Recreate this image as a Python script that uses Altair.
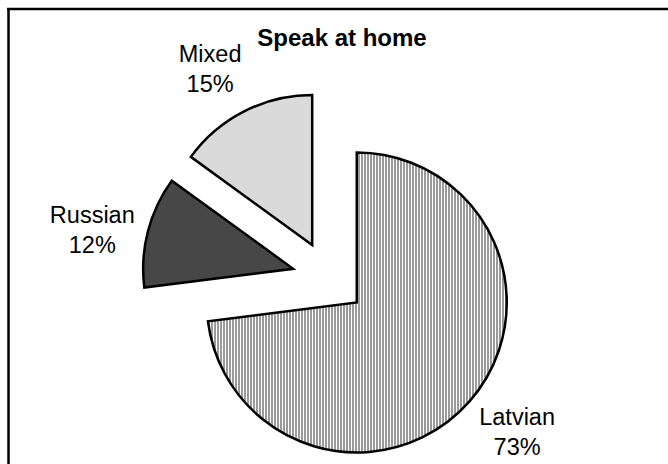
import math
import altair as alt
import pandas as pd

# ---- data -------------------------------------------------------------
categories = ["Latvian", "Russian", "Mixed"]
shares = [73, 12, 15]
pct_labels = ["73%", "12%", "15%"]
title_text = "Speak at home"

df = pd.DataFrame({"cat": categories, "value": shares, "pct": pct_labels,
                   "order": list(range(len(categories)))})

# ---- style ------------------------------------------------------------
CX, CY = 329, 278      # pie centre (px)
R = 150                # radius
EXPL = 37              # explosion distance
LR = 205               # label distance from slice centre
LSHIFT = 0.05          # label angle shift (rad)
FONT = "Liberation Sans"
LH = 30                # label line height

# vertical stripe "pattern" for the Latvian slice, aligned to whole pixels
tot = sum(shares)
end_ang = shares[0] / tot * 2 * math.pi
mid_ang = end_ang / 2
lat_cx = CX + EXPL * math.sin(mid_ang)
left = lat_cx + R * min(0.0, math.sin(end_ang), -1.0 if end_ang > 1.5 * math.pi else 0.0)
right = lat_cx + R
width = right - left
stops = [alt.GradientStop(color="#ffffff", offset=0)]
x = math.ceil(left)
while x < right:
    a = max(0.0, (x - left) / width)
    b = min(1.0, (x + 2 - left) / width)
    c = min(1.0, (x + 3 - left) / width)
    stops += [alt.GradientStop(color="#ffffff", offset=a),
              alt.GradientStop(color="#9a9a9a", offset=a),
              alt.GradientStop(color="#9a9a9a", offset=b),
              alt.GradientStop(color="#ffffff", offset=b),
              alt.GradientStop(color="#ffffff", offset=c)]
    x += 3
stripes = alt.LinearGradient(gradient="linear", stops=stops, x1=0, x2=1, y1=0, y2=0)

base = (
    alt.Chart(df)
    .transform_joinaggregate(total="sum(value)")
    .transform_window(cum="sum(value)", sort=[alt.SortField("order")], frame=[None, 0])
    .transform_calculate(t0="(datum.cum - datum.value) / datum.total * 2 * PI")
    .transform_calculate(t1="datum.cum / datum.total * 2 * PI")
    .transform_calculate(mid="(datum.t0 + datum.t1) / 2")
    .transform_calculate(px=f"{CX} + {EXPL} * sin(datum.mid)")
    .transform_calculate(py=f"{CY} - {EXPL} * cos(datum.mid)")
    .transform_calculate(lx=f"datum.px + {LR} * sin(datum.mid - {LSHIFT})")
    .transform_calculate(ly=f"datum.py - {LR} * cos(datum.mid - {LSHIFT})")
    .transform_calculate(label="datum.cat + '\\n' + datum.pct")
)

arc_enc = dict(
    x=alt.X("px:Q", scale=None, axis=None),
    y=alt.Y("py:Q", scale=None, axis=None),
    theta=alt.Theta("t0:Q", scale=None),
    theta2=alt.Theta2("t1"),
)

latvian = (
    base.transform_filter("datum.cat == 'Latvian'")
    .mark_arc(radius=R, stroke="black", strokeWidth=2.5, fill=stripes, strokeJoin="miter")
    .encode(**arc_enc)
)

others = (
    base.transform_filter("datum.cat != 'Latvian'")
    .mark_arc(radius=R, stroke="black", strokeWidth=2.5, strokeJoin="miter")
    .encode(
        fill=alt.Color("cat:N", scale=alt.Scale(domain=["Russian", "Mixed"],
                                                range=["#474747", "#dadada"]),
                       legend=None),
        **arc_enc,
    )
)

labels = base.mark_text(
    font=FONT, fontSize=23.5, lineBreak="\n", lineHeight=LH, dy=-LH / 2 + 3,
    align="center", baseline="middle", color="black",
).encode(
    x=alt.X("lx:Q", scale=None, axis=None),
    y=alt.Y("ly:Q", scale=None, axis=None),
    text="label:N",
)

one = pd.DataFrame({"t": [title_text]})
title = alt.Chart(one).mark_text(
    font=FONT, fontSize=24, fontWeight="bold", align="center",
    baseline="alphabetic", color="black",
).encode(x=alt.value(342), y=alt.value(46), text="t:N")

frame_top = alt.Chart(one).mark_rule(color="black", strokeWidth=2.5).encode(
    x=alt.value(7), x2=alt.value(668), y=alt.value(9))
frame_left = alt.Chart(one).mark_rule(color="black", strokeWidth=2.5).encode(
    x=alt.value(8.5), y=alt.value(8), y2=alt.value(464))

chart = (
    alt.layer(frame_top, frame_left, latvian, others, labels, title)
    .properties(width=668, height=464, padding=0,
                autosize=alt.AutoSizeParams(type="none"), background="white")
    .configure_view(stroke=None)
)

chart.save("out.html", embed_options={"renderer": "svg", "actions": False})
